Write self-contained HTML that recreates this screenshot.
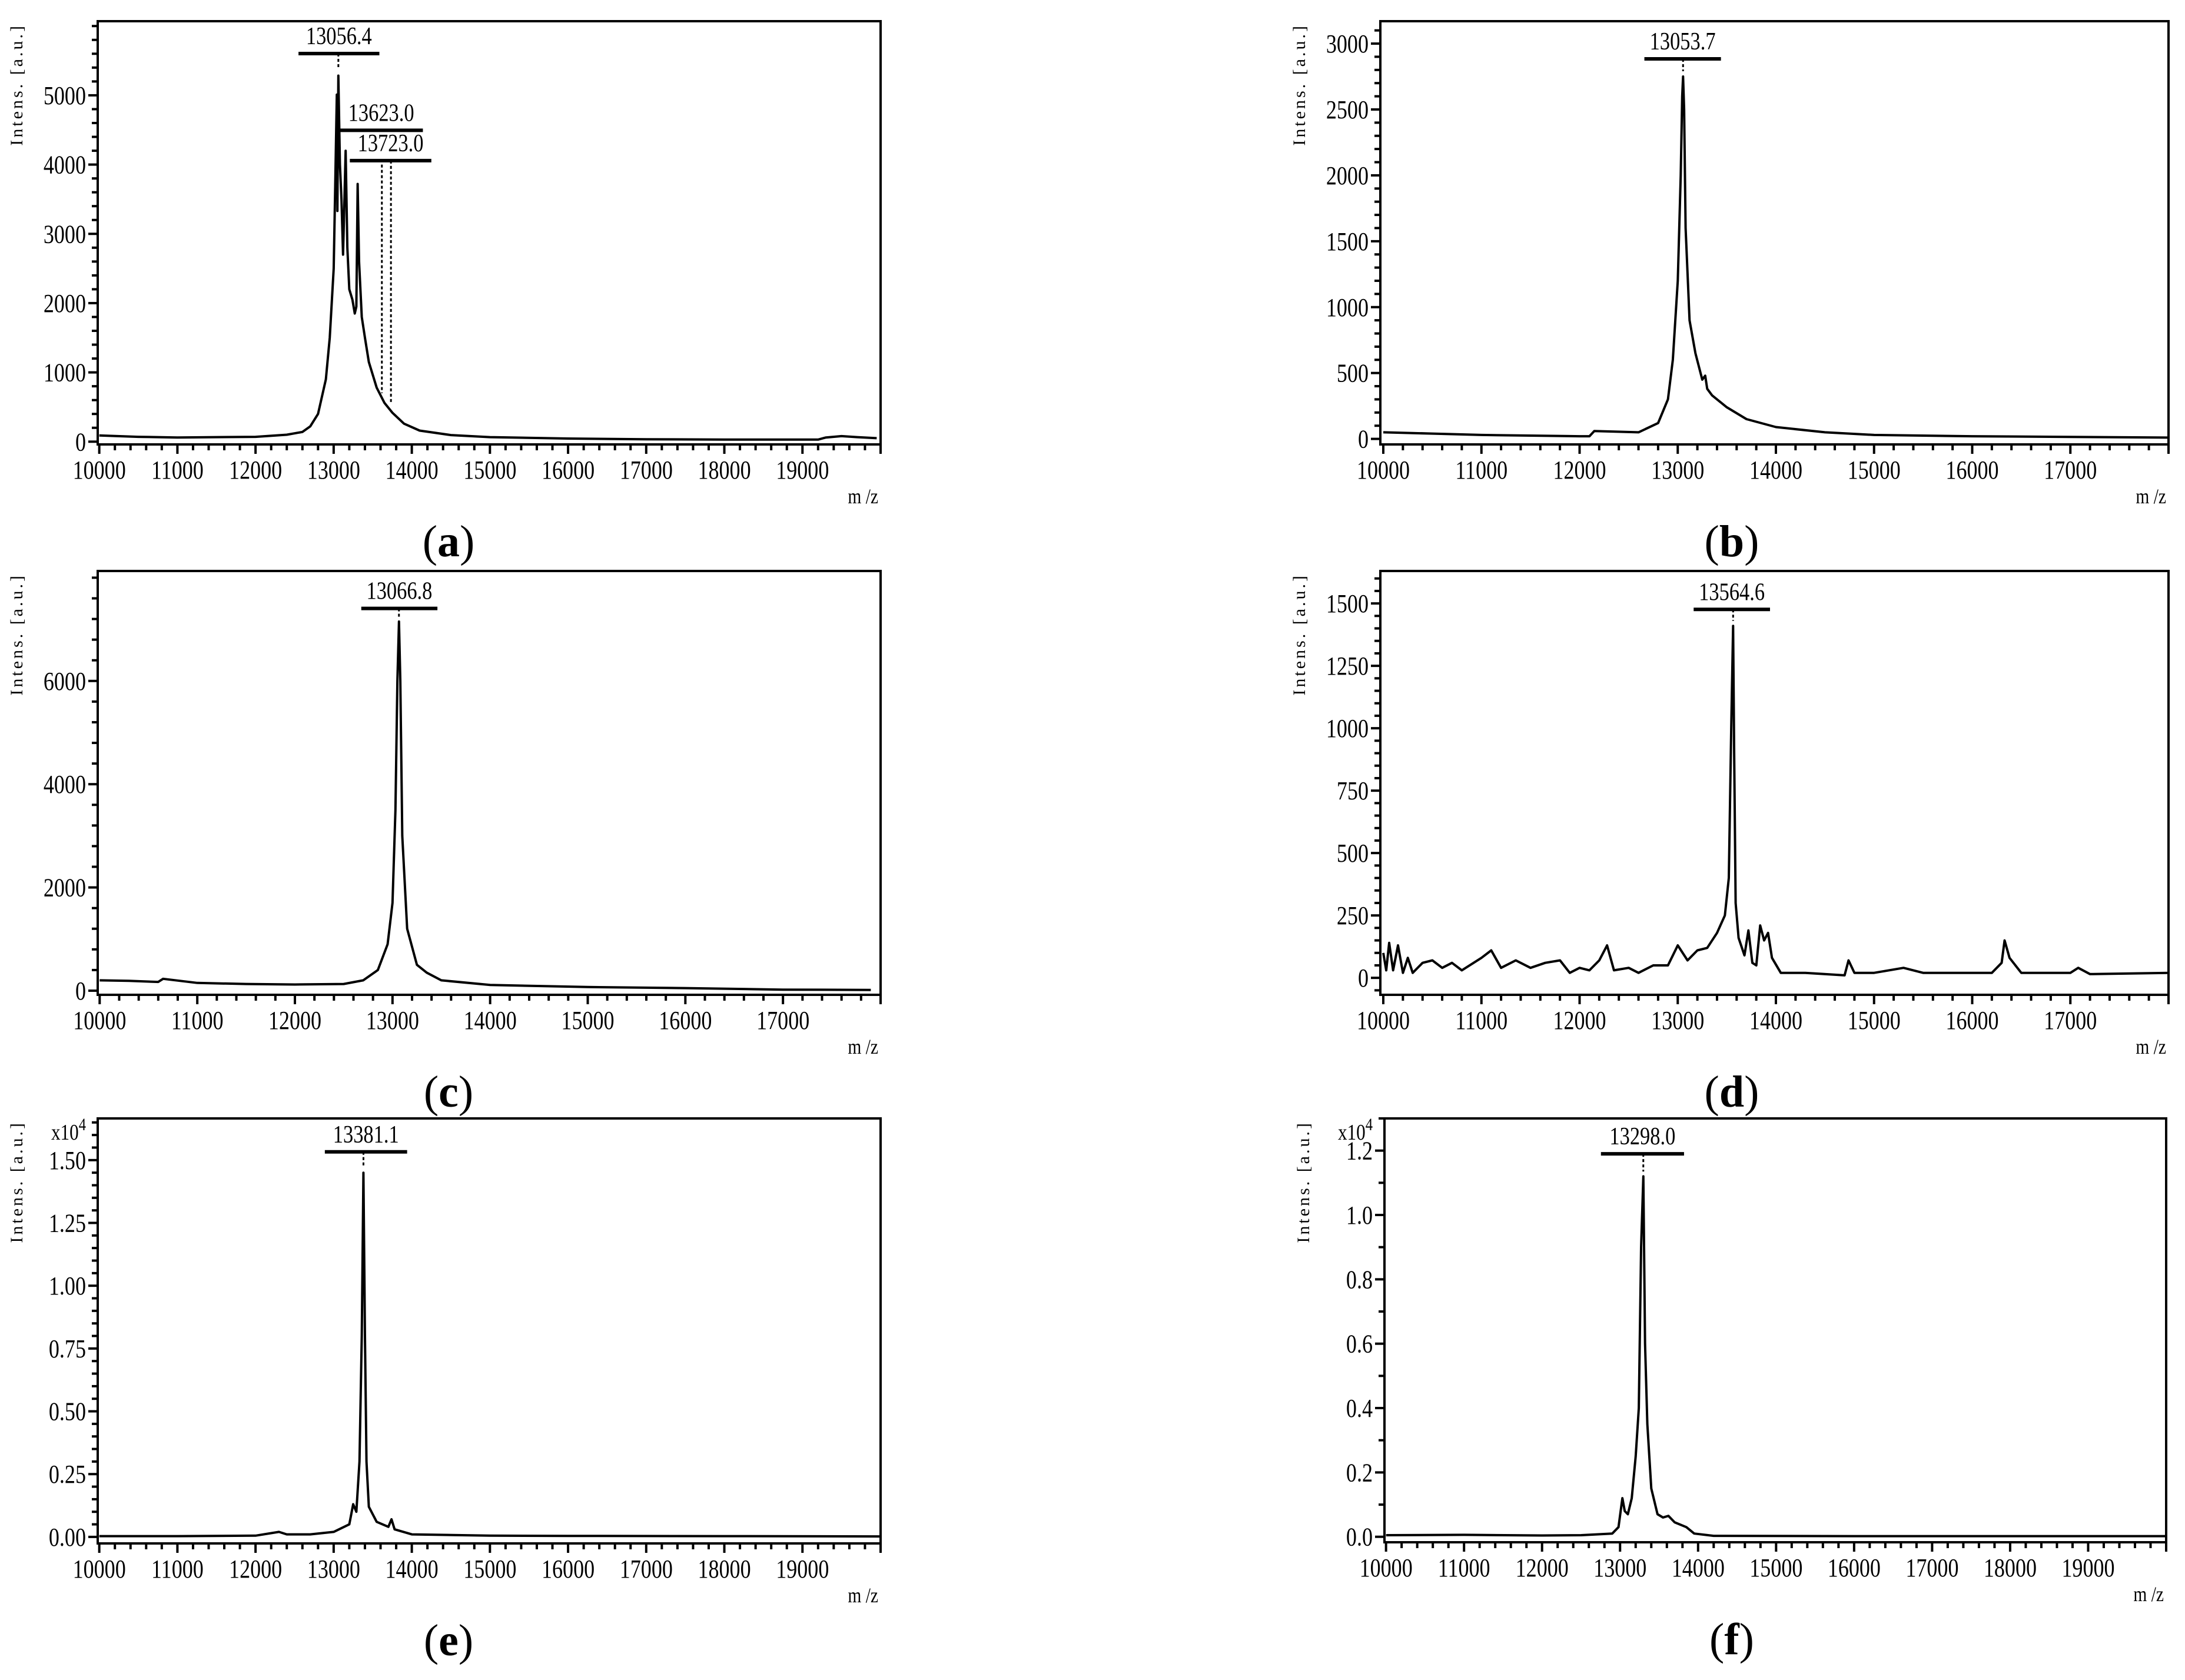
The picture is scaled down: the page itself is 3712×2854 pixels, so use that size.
<!DOCTYPE html>
<html><head><meta charset="utf-8"><style>
html,body{margin:0;padding:0;background:#fff}
svg{display:block}
text{font-family:"Liberation Serif",serif;fill:#000}
</style></head><body>
<svg id="fig" width="3712" height="2854" viewBox="0 0 3712 2854" xmlns="http://www.w3.org/2000/svg"></svg>
<script>
// ---- data arrays (m/z, intensity) ----
const mzA = [10000,10500,11000,11500,12000,12400,12600,12700,12800,12900,12950,13000,13020,13040,13048,13060,13080,13100,13120,13153,13175,13200,13240,13270,13290,13307,13325,13360,13400,13450,13550,13650,13750,13900,14100,14500,15000,16000,17000,18000,19200,19300,19500,19700,19950];
const intA = [90,70,60,65,70,100,140,220,400,900,1500,2500,3700,5010,3330,5284,4000,3500,2700,4200,2800,2200,2050,1850,1950,3720,2600,1800,1500,1150,780,560,420,260,160,95,65,45,35,30,30,60,80,65,50];
const mzB = [10000,10500,11000,11500,12000,12100,12150,12600,12800,12900,12950,13000,13030,13045,13054,13065,13080,13120,13180,13250,13280,13300,13350,13500,13700,14000,14500,15000,16000,17000,18000];
const intB = [50,40,30,25,20,20,60,50,120,300,600,1200,2000,2600,2750,2500,1600,900,650,450,480,380,330,240,150,90,50,30,20,15,10];
const mzC = [10000,10300,10600,10650,11000,11500,12000,12500,12700,12850,12950,13000,13030,13050,13066,13080,13100,13150,13250,13350,13500,14000,15000,16000,17000,17900];
const intC = [200,190,170,230,150,130,120,130,200,400,900,1700,3500,6000,7150,6000,3000,1200,500,350,200,110,70,50,20,15];
const mzD = [10000,10030,10060,10100,10150,10200,10250,10300,10400,10500,10600,10700,10800,11000,11100,11200,11350,11500,11650,11800,11900,12000,12100,12200,12280,12350,12500,12600,12750,12900,13000,13100,13200,13300,13400,13480,13520,13545,13564,13575,13590,13620,13680,13720,13760,13800,13840,13880,13920,13960,14050,14300,14700,14740,14800,15000,15300,15500,16000,16200,16300,16330,16380,16500,17000,17080,17200,18000];
const intD = [100,30,140,30,130,20,80,20,60,70,40,60,30,80,110,40,70,40,60,70,20,40,30,70,130,30,40,20,50,50,130,70,110,120,180,250,400,1000,1410,900,300,160,90,190,60,50,210,150,180,80,20,20,10,70,20,20,40,20,20,20,60,150,80,20,20,40,15,20];
const mzE = [10000,11000,12000,12300,12400,12700,13000,13200,13250,13290,13330,13360,13381,13400,13420,13450,13550,13700,13740,13780,14000,15000,16000,18000,20000];
const intE = [0.003,0.003,0.005,0.02,0.01,0.01,0.02,0.05,0.13,0.10,0.30,0.80,1.45,0.80,0.30,0.12,0.06,0.04,0.07,0.03,0.01,0.005,0.004,0.003,0.002];
const mzF = [10000,11000,12000,12500,12900,12980,13030,13060,13100,13150,13200,13240,13270,13298,13320,13350,13400,13480,13550,13620,13700,13850,13950,14200,16000,20000];
const intF = [0.005,0.006,0.004,0.005,0.01,0.03,0.12,0.08,0.07,0.12,0.25,0.40,0.90,1.12,0.60,0.35,0.15,0.07,0.06,0.065,0.045,0.03,0.01,0.003,0.002,0.002];
// peak annotations
const peakLabelsA = ["13056.4","13623.0","13723.0"];
const peakMzA = [13060,13617,13733];
const peakBarA = [[12550,13585,5603],[13075,14142,4495],[13207,14250,4057]];
const peakStartA = [5603,4000,4057];
const peakTipA = [5380,700,560];

const NS="http://www.w3.org/2000/svg";
const svg=document.getElementById('fig');
function el(tag,attrs,parent){const e=document.createElementNS(NS,tag);for(const k in attrs)e.setAttribute(k,attrs[k]);(parent||svg).appendChild(e);return e;}
function ctext(parent,x,y,size,anchor,str){
  const t=el('text',{x:0,y:0,'font-size':size,'text-anchor':anchor,transform:`translate(${x},${y}) scale(0.82,1)`},parent);
  t.textContent=str;return t;
}

function panel(cfg){
  const g=el('g',{});
  
  
  const X=v=>cfg.L+(v-cfg.x0)/(cfg.x1-cfg.x0)*(cfg.R-cfg.L);
  const Y=v=>cfg.B-(v-cfg.y0)/(cfg.y1-cfg.y0)*(cfg.B-cfg.T);
  for(let v=10000; v<=cfg.x1+1; v+=200){
    const major=(v%1000===0);
    const t=el('line',{x1:X(v),x2:X(v),y1:cfg.B,y2:cfg.B+(major?16:10),stroke:'#000','stroke-width':4},g);
    
    
    if(major && v<cfg.x1-1){
      const tx=ctext(g,X(v),cfg.B+58,44,'middle',String(v));
      
      
    }
  }
  const k=Math.round(cfg.step/cfg.minor);
  for(let i=Math.ceil(cfg.y0/cfg.minor); cfg.minor*i<=cfg.y1; i++){
    const v=i*cfg.minor;
    const major=(i%k===0)&&v>=0&&v<=cfg.ymax+1e-9;
    const t=el('line',{x1:cfg.L,x2:cfg.L-(major?16:10),y1:Y(v),y2:Y(v),stroke:'#000','stroke-width':4},g);
    
    
    if(major){
      const tx=ctext(g,cfg.L-20,Y(v)+15,44,'end',v.toFixed(cfg.dec));
      
      
    }
  }
  const f=el('rect',{x:cfg.L,y:cfg.T,width:cfg.R-cfg.L,height:cfg.B-cfg.T,fill:'none',stroke:'#000','stroke-width':4},g);
  
  
  let d='';
  for(let i=0;i<cfg.mz.length;i++){d+=(i?'L':'M')+X(cfg.mz[i]).toFixed(1)+','+Y(cfg.int[i]).toFixed(1);}
  const p=el('path',{d:d,fill:'none',stroke:'#000','stroke-width':4,'stroke-linejoin':'round'},g);
  
  
  for(let i=0;i<cfg.pl.length;i++){
    const b=cfg.pb[i];
    const bl=el('line',{x1:X(b[0]),x2:X(b[1]),y1:Y(b[2]),y2:Y(b[2]),stroke:'#000','stroke-width':6},g);
    
    
    const s=cfg.ps?cfg.ps[i]:b[2];
    const dl=el('line',{x1:X(cfg.pm[i]),x2:X(cfg.pm[i]),y1:Y(s),y2:Y(cfg.pt[i]),stroke:'#000','stroke-width':3,'stroke-dasharray':'5,4'},g);
    
    
    const tx=ctext(g,(X(b[0])+X(b[1]))/2,Y(b[2])-16,42,'middle',cfg.pl[i]);
    
    
  }
  const yt=el('text',{x:0,y:0,'font-size':30,'text-anchor':'end','letter-spacing':'4',transform:`translate(${cfg.L-128},${cfg.T+4}) rotate(-90)`},g);
  yt.textContent='Intens. [a.u.]';
  
  
  const xt=ctext(g,cfg.R-4,cfg.B+100,36,'end','m /z');
  
  
  if(cfg.exp){
    const ex=el('text',{x:0,y:0,'font-size':38,'text-anchor':'end',transform:`translate(${cfg.L-20},${cfg.T+36}) scale(0.82,1)`},g);
    ex.textContent='x10';
    const sup=el('tspan',{dy:-16,'font-size':30},ex);
    sup.textContent='4';
    
    
  }
  const lb=el('text',{x:cfg.cx,y:cfg.B+190,'font-size':76,'text-anchor':'middle'},g);
  lb.innerHTML='(<tspan font-weight="bold">'+cfg.letter+'</tspan>)';
  
  
}

panel({name:'panel-a',letter:'a',cx:762,L:166,R:1496,T:36,B:755,x0:9980,x1:20000,y0:-40,y1:6070,ymax:5000,step:1000,minor:200,dec:0,mz:mzA,int:intA,pl:peakLabelsA,pm:peakMzA,pb:peakBarA,ps:peakStartA,pt:peakTipA});
panel({name:'panel-b',letter:'b',cx:2942,L:2345,R:3684,T:36,B:755,x0:9970,x1:18000,y0:-42,y1:3170,ymax:3000,step:500,minor:100,dec:0,mz:mzB,int:intB,pl:["13053.7"],pm:[13054],pb:[[12660,13440,2884]],pt:[2790]});
panel({name:'panel-c',letter:'c',cx:762,L:166,R:1496,T:970,B:1690,x0:9980,x1:18000,y0:-80,y1:8130,ymax:6000,step:2000,minor:400,dec:0,mz:mzC,int:intC,pl:["13066.8"],pm:[13066],pb:[[12680,13460,7405]],pt:[7200]});
panel({name:'panel-d',letter:'d',cx:2942,L:2345,R:3684,T:970,B:1690,x0:9970,x1:18000,y0:-68,y1:1630,ymax:1500,step:250,minor:50,dec:0,mz:mzD,int:intD,pl:["13564.6"],pm:[13564],pb:[[13162,13940,1476]],pt:[1430]});
panel({name:'panel-e',letter:'e',cx:762,L:166,R:1496,T:1900,B:2622,x0:9980,x1:20000,y0:-0.026,y1:1.666,ymax:1.5,step:0.25,minor:0.05,dec:2,exp:true,mz:mzE,int:intE,pl:["13381.1"],pm:[13381],pb:[[12887,13940,1.533]],pt:[1.47]});
panel({name:'panel-f',letter:'f',cx:2942,L:2352,R:3680,T:1900,B:2620,x0:9980,x1:20000,y0:-0.017,y1:1.30,ymax:1.2,step:0.2,minor:0.1,dec:1,exp:true,mz:mzF,int:intF,pl:["13298.0"],pm:[13298],pb:[[12755,13820,1.19]],pt:[1.135]});
</script>
</body></html>
